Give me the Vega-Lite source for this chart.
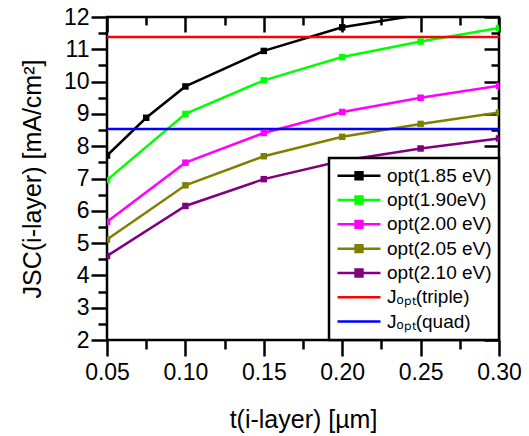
{
  "$schema": "https://vega.github.io/schema/vega-lite/v6.json",
  "width": 392,
  "height": 323,
  "autosize": {"type": "pad"},
  "padding": {"left": 20, "top": 6, "right": 8, "bottom": 3},
  "config": {
    "font": "Liberation Sans",
    "view": {"stroke": "black", "strokeWidth": 2.5},
    "axis": {
      "domain": false, "ticks": true, "tickColor": "black", "tickWidth": 2.5, "tickOpacity": 1,
      "labelColor": "black", "labelFontSize": 23, "labelFont": "Liberation Sans",
      "titleColor": "black", "titleFontSize": 25, "titleFontWeight": "normal", "titleFont": "Liberation Sans",
      "grid": false, "labelFlush": false, "labelOverlap": false
    }
  },
  "data": {
    "values": [
      {"s": "opt(1.85 eV)", "x": 0.05, "y": 7.71},
      {"s": "opt(1.85 eV)", "x": 0.075, "y": 8.88},
      {"s": "opt(1.85 eV)", "x": 0.10, "y": 9.85},
      {"s": "opt(1.85 eV)", "x": 0.15, "y": 10.95},
      {"s": "opt(1.85 eV)", "x": 0.20, "y": 11.68},
      {"s": "opt(1.85 eV)", "x": 0.25, "y": 12.07},
      {"s": "opt(1.90eV)", "x": 0.05, "y": 6.95},
      {"s": "opt(1.90eV)", "x": 0.10, "y": 9.0},
      {"s": "opt(1.90eV)", "x": 0.15, "y": 10.04},
      {"s": "opt(1.90eV)", "x": 0.20, "y": 10.76},
      {"s": "opt(1.90eV)", "x": 0.25, "y": 11.24},
      {"s": "opt(1.90eV)", "x": 0.30, "y": 11.66},
      {"s": "opt(2.00 eV)", "x": 0.05, "y": 5.66},
      {"s": "opt(2.00 eV)", "x": 0.10, "y": 7.49},
      {"s": "opt(2.00 eV)", "x": 0.15, "y": 8.41},
      {"s": "opt(2.00 eV)", "x": 0.20, "y": 9.06},
      {"s": "opt(2.00 eV)", "x": 0.25, "y": 9.5},
      {"s": "opt(2.00 eV)", "x": 0.30, "y": 9.87},
      {"s": "opt(2.05 eV)", "x": 0.05, "y": 5.11},
      {"s": "opt(2.05 eV)", "x": 0.10, "y": 6.79},
      {"s": "opt(2.05 eV)", "x": 0.15, "y": 7.69},
      {"s": "opt(2.05 eV)", "x": 0.20, "y": 8.29},
      {"s": "opt(2.05 eV)", "x": 0.25, "y": 8.69},
      {"s": "opt(2.05 eV)", "x": 0.30, "y": 9.04},
      {"s": "opt(2.10 eV)", "x": 0.05, "y": 4.6},
      {"s": "opt(2.10 eV)", "x": 0.10, "y": 6.15},
      {"s": "opt(2.10 eV)", "x": 0.15, "y": 6.98},
      {"s": "opt(2.10 eV)", "x": 0.20, "y": 7.55},
      {"s": "opt(2.10 eV)", "x": 0.25, "y": 7.93},
      {"s": "opt(2.10 eV)", "x": 0.30, "y": 8.24},
      {"s": "Jₒₚₜ(triple)", "x": 0.05, "y": 11.38},
      {"s": "Jₒₚₜ(triple)", "x": 0.30, "y": 11.38},
      {"s": "Jₒₚₜ(quad)", "x": 0.05, "y": 8.53},
      {"s": "Jₒₚₜ(quad)", "x": 0.30, "y": 8.53}
    ]
  },
  "layer": [
    {
      "mark": {"type": "line", "strokeWidth": 2.5, "clip": true},
      "encoding": {
        "x": {
          "field": "x", "type": "quantitative",
          "scale": {"domain": [0.05, 0.30], "nice": false, "zero": false},
          "axis": {
            "orient": "bottom",
            "title": "t(i-layer) [µm]",
            "titleBaseline": "alphabetic", "titleY": 87,
            "values": [0.05, 0.10, 0.15, 0.20, 0.25, 0.30],
            "format": ".2f",
            "tickSize": 16,
            "labelPadding": 5
          }
        },
        "y": {
          "field": "y", "type": "quantitative",
          "scale": {"domain": [2, 12], "nice": false, "zero": false},
          "axis": {
            "orient": "left",
            "title": "JSC(i-layer) [mA/cm²]",
            "titleBaseline": "alphabetic", "titleX": -67,
            "values": [2, 3, 4, 5, 6, 7, 8, 9, 10, 11, 12],
            "format": "d",
            "tickSize": 16,
            "labelPadding": 2
          }
        },
        "color": {
          "field": "s", "type": "nominal",
          "scale": {
            "domain": ["opt(1.85 eV)", "opt(1.90eV)", "opt(2.00 eV)", "opt(2.05 eV)", "opt(2.10 eV)", "Jₒₚₜ(triple)", "Jₒₚₜ(quad)"],
            "range": ["#000000", "#00ff00", "#ff00ff", "#808000", "#800080", "#ff0000", "#0000ff"]
          },
          "legend": {
            "title": null,
            "orient": "bottom-right",
            "direction": "vertical",
            "offset": 0,
            "padding": 7,
            "fillColor": "white",
            "strokeColor": "black",
            "labelFontSize": 19,
            "labelFont": "Liberation Sans",
            "labelColor": "black",
            "labelOffset": 5,
            "clipHeight": 21.5,
            "rowPadding": 2.3,
            "symbolSize": 1850,
            "encode": {
              "legend": {"update": {"strokeWidth": {"value": 2.5}}},
              "symbols": {
                "update": {
                  "shape": {"signal": "indexof(datum.value, 'opt') === 0 ? 'M-1,0H1M-0.16,-0.16H0.16V0.16H-0.16Z' : 'M-1,0H1'"},
                  "stroke": {"scale": "color", "field": "value"},
                  "fill": {"scale": "color", "field": "value"},
                  "strokeWidth": {"value": 2.5},
                  "opacity": {"value": 1},
                  "fillOpacity": {"value": 1},
                  "strokeOpacity": {"value": 1}
                }
              }
            }
          }
        }
      }
    },
    {
      "transform": [{"filter": "indexof(datum.s, 'opt') === 0"}],
      "mark": {"type": "point", "shape": "square", "filled": true, "size": 42, "opacity": 1, "clip": true},
      "encoding": {
        "x": {
          "field": "x", "type": "quantitative",
          "axis": {
            "orient": "bottom", "title": null, "labels": false,
            "values": [0.075, 0.125, 0.175, 0.225, 0.275],
            "tickSize": 9
          }
        },
        "y": {
          "field": "y", "type": "quantitative",
          "axis": {
            "orient": "left", "title": null, "labels": false,
            "values": [2.5, 3.5, 4.5, 5.5, 6.5, 7.5, 8.5, 9.5, 10.5, 11.5],
            "tickSize": 9
          }
        },
        "color": {"field": "s", "type": "nominal"}
      }
    },
    {
      "mark": {"type": "point", "opacity": 0},
      "encoding": {
        "x": {
          "field": "x", "type": "quantitative",
          "axis": {
            "orient": "top", "title": null, "labels": false, "offset": -15,
            "values": [0.05, 0.10, 0.15, 0.20, 0.25, 0.30],
            "tickSize": 15
          }
        },
        "y": {
          "field": "y", "type": "quantitative",
          "axis": {
            "orient": "right", "title": null, "labels": false, "offset": -15,
            "values": [2, 3, 4, 5, 6, 7, 8, 9, 10, 11, 12],
            "tickSize": 15
          }
        }
      }
    },
    {
      "mark": {"type": "point", "opacity": 0},
      "encoding": {
        "x": {
          "field": "x", "type": "quantitative",
          "axis": {
            "orient": "top", "title": null, "labels": false, "offset": -8,
            "values": [0.075, 0.125, 0.175, 0.225, 0.275],
            "tickSize": 8
          }
        },
        "y": {
          "field": "y", "type": "quantitative",
          "axis": {
            "orient": "right", "title": null, "labels": false, "offset": -8,
            "values": [2.5, 3.5, 4.5, 5.5, 6.5, 7.5, 8.5, 9.5, 10.5, 11.5],
            "tickSize": 8
          }
        }
      }
    }
  ],
  "resolve": {"axis": {"x": "independent", "y": "independent"}}
}
